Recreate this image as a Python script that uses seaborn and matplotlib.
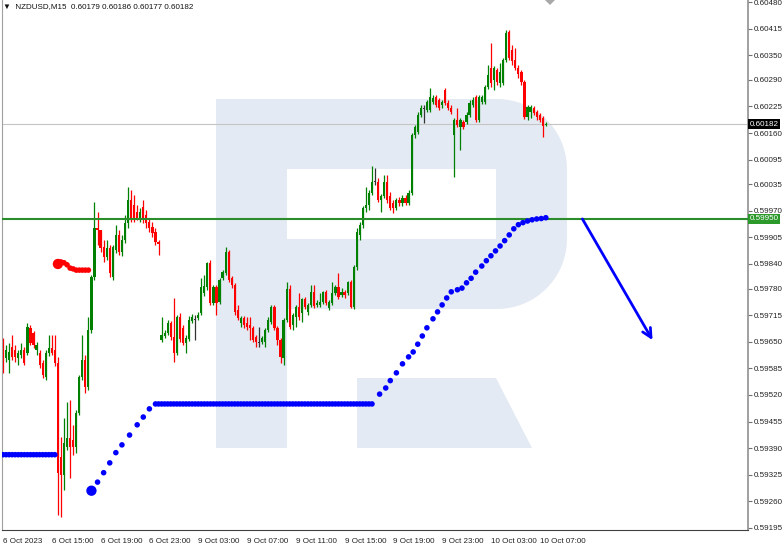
import numpy as np
import pandas as pd
import seaborn as sns
import matplotlib.pyplot as plt
from matplotlib.patches import Polygon, Rectangle
from matplotlib.transforms import blended_transform_factory

# M15 candles, 6 Oct 11:00 .. 10 Oct 07:30
opens = [0.59649, 0.59611, 0.59606, 0.59637, 0.59630, 0.59611, 0.59618, 0.59630, 0.59623, 0.59684,
         0.59672, 0.59630, 0.59623, 0.59599, 0.59564, 0.59623, 0.59635, 0.59630, 0.59599, 0.59369,
         0.59325, 0.59393, 0.59415, 0.59410, 0.59393, 0.59476, 0.59564, 0.59606, 0.59540, 0.59679,
         0.59808, 0.59928, 0.59923, 0.59882, 0.59857, 0.59879, 0.59808, 0.59874, 0.59911, 0.59869,
         0.59899, 0.59941, 0.59996, 0.59984, 0.59967, 0.59953, 0.59979, 0.59960, 0.59943, 0.59931,
         0.59918, 0.59894, 0.59654, 0.59664, 0.59672, 0.59696, 0.59662, 0.59623, 0.59711, 0.59684,
         0.59647, 0.59657, 0.59701, 0.59703, 0.59708, 0.59721, 0.59770, 0.59784, 0.59843, 0.59745,
         0.59784, 0.59747, 0.59805, 0.59818, 0.59869, 0.59805, 0.59789, 0.59728, 0.59696, 0.59708,
         0.59696, 0.59691, 0.59684, 0.59662, 0.59647, 0.59649, 0.59649, 0.59679, 0.59698, 0.59735,
         0.59684, 0.59654, 0.59611, 0.59703, 0.59779, 0.59691, 0.59711, 0.59735, 0.59721, 0.59755,
         0.59723, 0.59740, 0.59772, 0.59740, 0.59740, 0.59747, 0.59772, 0.59733, 0.59745, 0.59770,
         0.59784, 0.59765, 0.59772, 0.59770, 0.59796, 0.59735, 0.59833, 0.59911, 0.59936, 0.59977,
         0.59984, 0.60014, 0.60040, 0.60040, 0.59996, 0.60006, 0.60040, 0.60006, 0.59989, 0.59977,
         0.59996, 0.59989, 0.60001, 0.59989, 0.60014, 0.60155, 0.60162, 0.60204, 0.60219, 0.60216,
         0.60216, 0.60236, 0.60248, 0.60241, 0.60229, 0.60265, 0.60234, 0.60221, 0.60155, 0.60192,
         0.60175, 0.60187, 0.60187, 0.60204, 0.60229, 0.60248, 0.60192, 0.60236, 0.60236, 0.60273,
         0.60319, 0.60290, 0.60314, 0.60283, 0.60283, 0.60338, 0.60407, 0.60363, 0.60338, 0.60319,
         0.60309, 0.60285, 0.60199, 0.60211, 0.60221, 0.60211, 0.60204, 0.60197, 0.60179]
highs = [0.59660, 0.59642, 0.59647, 0.59667, 0.59642, 0.59630, 0.59647, 0.59637, 0.59696, 0.59691,
         0.59677, 0.59649, 0.59630, 0.59606, 0.59630, 0.59667, 0.59667, 0.59667, 0.59613, 0.59417,
         0.59464, 0.59503, 0.59508, 0.59447, 0.59483, 0.59569, 0.59667, 0.59618, 0.59711, 0.59813,
         0.59991, 0.59967, 0.59923, 0.59899, 0.59899, 0.59887, 0.59887, 0.59936, 0.59923, 0.59911,
         0.59960, 0.60028, 0.60021, 0.60009, 0.59984, 0.59977, 0.59996, 0.59972, 0.59953, 0.59943,
         0.59928, 0.59899, 0.59711, 0.59679, 0.59703, 0.59701, 0.59757, 0.59716, 0.59721, 0.59691,
         0.59667, 0.59713, 0.59718, 0.59716, 0.59723, 0.59805, 0.59813, 0.59845, 0.59850, 0.59789,
         0.59789, 0.59805, 0.59825, 0.59882, 0.59874, 0.59810, 0.59794, 0.59740, 0.59713, 0.59713,
         0.59711, 0.59711, 0.59688, 0.59667, 0.59686, 0.59664, 0.59684, 0.59711, 0.59740, 0.59740,
         0.59688, 0.59660, 0.59708, 0.59796, 0.59789, 0.59721, 0.59740, 0.59770, 0.59757, 0.59760,
         0.59745, 0.59789, 0.59789, 0.59752, 0.59770, 0.59775, 0.59777, 0.59752, 0.59796, 0.59789,
         0.59818, 0.59781, 0.59777, 0.59799, 0.59801, 0.59838, 0.59928, 0.59943, 0.59981, 0.60028,
         0.60021, 0.60079, 0.60075, 0.60050, 0.60011, 0.60058, 0.60058, 0.60016, 0.59996, 0.60001,
         0.60004, 0.60009, 0.60009, 0.60021, 0.60160, 0.60180, 0.60211, 0.60229, 0.60229, 0.60241,
         0.60270, 0.60253, 0.60253, 0.60246, 0.60241, 0.60270, 0.60241, 0.60229, 0.60197, 0.60221,
         0.60197, 0.60192, 0.60211, 0.60241, 0.60248, 0.60253, 0.60253, 0.60253, 0.60278, 0.60326,
         0.60380, 0.60324, 0.60319, 0.60331, 0.60343, 0.60412, 0.60412, 0.60375, 0.60368, 0.60326,
         0.60314, 0.60290, 0.60229, 0.60229, 0.60226, 0.60216, 0.60209, 0.60202, 0.60186]
lows = [0.59574, 0.59601, 0.59574, 0.59606, 0.59601, 0.59594, 0.59611, 0.59594, 0.59618, 0.59642,
        0.59635, 0.59618, 0.59587, 0.59562, 0.59557, 0.59615, 0.59618, 0.59591, 0.59227, 0.59222,
        0.59288, 0.59386, 0.59318, 0.59374, 0.59379, 0.59471, 0.59557, 0.59525, 0.59532, 0.59672,
        0.59801, 0.59887, 0.59869, 0.59845, 0.59850, 0.59808, 0.59801, 0.59867, 0.59862, 0.59859,
        0.59892, 0.59928, 0.59943, 0.59943, 0.59948, 0.59943, 0.59941, 0.59928, 0.59918, 0.59906,
        0.59887, 0.59862, 0.59649, 0.59660, 0.59667, 0.59654, 0.59601, 0.59618, 0.59649, 0.59642,
        0.59623, 0.59652, 0.59696, 0.59654, 0.59703, 0.59716, 0.59762, 0.59777, 0.59740, 0.59740,
        0.59716, 0.59742, 0.59801, 0.59813, 0.59796, 0.59781, 0.59716, 0.59703, 0.59686, 0.59684,
        0.59679, 0.59654, 0.59649, 0.59637, 0.59637, 0.59644, 0.59637, 0.59674, 0.59693, 0.59679,
        0.59642, 0.59599, 0.59594, 0.59698, 0.59681, 0.59679, 0.59686, 0.59703, 0.59698, 0.59730,
        0.59716, 0.59735, 0.59733, 0.59735, 0.59735, 0.59742, 0.59740, 0.59728, 0.59740, 0.59765,
        0.59755, 0.59760, 0.59757, 0.59765, 0.59733, 0.59730, 0.59825, 0.59899, 0.59928, 0.59967,
        0.59972, 0.60009, 0.60033, 0.59991, 0.59967, 0.60001, 0.59989, 0.59972, 0.59965, 0.59972,
        0.59981, 0.59981, 0.59984, 0.59984, 0.60009, 0.60148, 0.60157, 0.60199, 0.60185, 0.60211,
        0.60211, 0.60231, 0.60224, 0.60216, 0.60221, 0.60229, 0.60216, 0.60206, 0.60053, 0.60175,
        0.60119, 0.60170, 0.60182, 0.60199, 0.60224, 0.60187, 0.60187, 0.60231, 0.60231, 0.60268,
        0.60273, 0.60265, 0.60278, 0.60273, 0.60278, 0.60333, 0.60338, 0.60326, 0.60314, 0.60295,
        0.60278, 0.60194, 0.60192, 0.60197, 0.60204, 0.60192, 0.60187, 0.60151, 0.60177]
closes = [0.59611, 0.59630, 0.59625, 0.59613, 0.59613, 0.59623, 0.59630, 0.59599, 0.59686, 0.59647,
          0.59642, 0.59642, 0.59594, 0.59569, 0.59623, 0.59635, 0.59623, 0.59599, 0.59330, 0.59325,
          0.59403, 0.59415, 0.59393, 0.59393, 0.59476, 0.59564, 0.59606, 0.59540, 0.59679, 0.59808,
          0.59928, 0.59923, 0.59879, 0.59857, 0.59879, 0.59818, 0.59882, 0.59911, 0.59869, 0.59899,
          0.59941, 0.59996, 0.59953, 0.59953, 0.59953, 0.59967, 0.59948, 0.59941, 0.59928, 0.59916,
          0.59894, 0.59889, 0.59667, 0.59672, 0.59696, 0.59662, 0.59623, 0.59711, 0.59657, 0.59647,
          0.59660, 0.59703, 0.59711, 0.59703, 0.59716, 0.59784, 0.59786, 0.59843, 0.59745, 0.59784,
          0.59745, 0.59801, 0.59820, 0.59869, 0.59801, 0.59789, 0.59723, 0.59708, 0.59708, 0.59691,
          0.59686, 0.59684, 0.59654, 0.59649, 0.59647, 0.59660, 0.59679, 0.59703, 0.59735, 0.59684,
          0.59654, 0.59613, 0.59703, 0.59779, 0.59686, 0.59716, 0.59735, 0.59711, 0.59755, 0.59735,
          0.59740, 0.59772, 0.59737, 0.59745, 0.59747, 0.59772, 0.59745, 0.59747, 0.59770, 0.59784,
          0.59760, 0.59772, 0.59765, 0.59796, 0.59735, 0.59833, 0.59918, 0.59936, 0.59977, 0.59984,
          0.60014, 0.60040, 0.60040, 0.59996, 0.60006, 0.60040, 0.59996, 0.59977, 0.59977, 0.59996,
          0.59989, 0.60001, 0.59989, 0.60014, 0.60155, 0.60175, 0.60204, 0.60221, 0.60219, 0.60236,
          0.60248, 0.60246, 0.60229, 0.60221, 0.60236, 0.60234, 0.60221, 0.60211, 0.60192, 0.60180,
          0.60192, 0.60175, 0.60204, 0.60234, 0.60241, 0.60192, 0.60248, 0.60248, 0.60273, 0.60302,
          0.60283, 0.60319, 0.60285, 0.60309, 0.60338, 0.60405, 0.60343, 0.60336, 0.60319, 0.60304,
          0.60285, 0.60199, 0.60224, 0.60224, 0.60209, 0.60199, 0.60192, 0.60177, 0.60182]

time_labels = ['6 Oct 2023', '6 Oct 15:00', '6 Oct 19:00', '6 Oct 23:00', '9 Oct 03:00',
               '9 Oct 07:00', '9 Oct 11:00', '9 Oct 15:00', '9 Oct 19:00', '9 Oct 23:00',
               '10 Oct 03:00', '10 Oct 07:00']
price_ticks = [0.60480, 0.60415, 0.60350, 0.60290, 0.60225, 0.60160, 0.60095, 0.60035, 0.59970,
               0.59905, 0.59840, 0.59780, 0.59715, 0.59650, 0.59585, 0.59520, 0.59455, 0.59390,
               0.59325, 0.59260, 0.59195]

# indicator dots (position in bars, price)
blue_pos = (list(range(0, 18)) + [29, 31, 33, 35, 37, 39, 41.5, 44, 46, 48]
            + list(range(50, 122))
            + [123.5, 125.5, 127, 129, 131, 133, 134.5, 136, 137.5, 139, 141, 142.5, 144, 145.5,
               147, 149, 150.5, 152, 153.5, 155, 157, 158.5, 160, 161.5, 163, 164.5, 166, 167.5,
               169, 170.5, 172, 173.5, 175, 176.5, 178])
blue_vals = ([0.59374] * 18
             + [0.59286, 0.59307, 0.59330, 0.59354, 0.59379, 0.59398, 0.59422, 0.59447, 0.59466, 0.59486]
             + [0.59498] * 72
             + [0.59522, 0.59537, 0.59555, 0.59574, 0.59596, 0.59613, 0.59625, 0.59644, 0.59664,
                0.59684, 0.59706, 0.59723, 0.59740, 0.59757, 0.59772, 0.59777, 0.59781, 0.59794,
                0.59805, 0.59820, 0.59835, 0.59848, 0.59860, 0.59872, 0.59884, 0.59897, 0.59911,
                0.59926, 0.59936, 0.59941, 0.59945, 0.59948, 0.59950, 0.59951, 0.59953])
red_pos = [18, 19, 20, 21, 22, 23, 24, 25, 26, 27, 28]
red_vals = [0.59840, 0.59845, 0.59843, 0.59838, 0.59830, 0.59828, 0.59825, 0.59825, 0.59825,
            0.59825, 0.59825]

level = 0.59950
last_price = 0.60182
arrow_from = (190, 0.59950)
arrow_to = (213, 0.59654)

df = pd.DataFrame({'open': opens, 'high': highs, 'low': lows, 'close': closes})
df['bar'] = np.arange(len(df))
df['body'] = (df['close'] - df['open']).abs().clip(lower=0.000025)
df['bottom'] = df[['open', 'close']].min(axis=1)
df['dir'] = np.sign(df['close'] - df['open'])
palette = {1: '#008000', -1: '#ff0000', 0: '#333333'}

sns.set_style('white')
plt.rcParams['font.family'] = ['Liberation Sans', 'DejaVu Sans']
fs = 5.8

fig = plt.figure(figsize=(7.82, 5.49), dpi=100)

# background watermark in pixel space
bg = fig.add_axes([0, 0, 1, 1], zorder=0)
bg.set_xlim(0, 782)
bg.set_ylim(549, 0)
bg.axis('off')
wm = '#e4eaf3'
t = np.linspace(-np.pi / 2, 0, 20)
bowl = ([(216, 99), (497, 99)]
        + [(497 + 70 * np.cos(a), 169 + 70 * np.sin(a)) for a in t]
        + [(497 + 70 * np.cos(a), 239 + 70 * np.sin(a)) for a in np.linspace(0, np.pi / 2, 20)]
        + [(216, 309)])
bg.add_patch(Polygon(bowl, closed=True, fc=wm, ec='none'))
bg.add_patch(Rectangle((287, 169), 209, 70, fc='white', ec='none'))
bg.add_patch(Rectangle((216, 99), 71, 349, fc=wm, ec='none'))
bg.add_patch(Polygon([(357, 378), (496, 378), (532, 448), (357, 448)], closed=True, fc=wm, ec='none'))
bg.add_patch(Polygon([(545, 0), (555, 0), (550, 5)], closed=True, fc='#a8a8a8', ec='none'))

ax = fig.add_axes([2 / 782, 19 / 549, 746 / 782, 530 / 549], zorder=1)
ax.patch.set_alpha(0)

ax.axhline(last_price, color='#c4c4c4', lw=0.8, zorder=1)

for d, grp in df.groupby('dir'):
    c = palette[d]
    ax.vlines(grp['bar'], grp['low'], grp['high'], color=c, lw=0.9, zorder=2)
    ax.bar(grp['bar'], grp['body'], bottom=grp['bottom'], width=0.72, color=c, linewidth=0, zorder=2)

ax.axhline(level, color='#2b8c2b', lw=1.5, zorder=3)

sns.scatterplot(x=blue_pos, y=blue_vals, s=16, color='#0000ff', edgecolor='none', ax=ax, zorder=4)
sns.scatterplot(x=[blue_pos[18]], y=[blue_vals[18]], s=55, color='#0000ff', edgecolor='none', ax=ax, zorder=4)
sns.scatterplot(x=red_pos, y=red_vals, s=16, color='#ff0000', edgecolor='none', ax=ax, zorder=4)
sns.scatterplot(x=[red_pos[0]], y=[red_vals[0]], s=55, color='#ff0000', edgecolor='none', ax=ax, zorder=4)

ax.annotate('', xy=arrow_to, xytext=arrow_from,
            arrowprops=dict(arrowstyle='->', color='#0000ff', lw=2, mutation_scale=16,
                            shrinkA=0, shrinkB=0), zorder=5)

ax.set_xlim(-0.33, 244.3)
ax.set_ylim(0.59190, 0.60485)

ax.yaxis.tick_right()
ax.set_yticks(price_ticks)
ax.set_yticklabels([f'{p:.5f}' for p in price_ticks])
ax.set_xticks(range(0, 16 * len(time_labels), 16))
ax.set_xticklabels(time_labels, ha='left')
ax.tick_params(axis='y', direction='out', length=3, width=0.8, color='#707070',
               labelsize=fs, pad=1.5, labelcolor='#222222')
ax.tick_params(axis='x', direction='out', length=4, width=0.8, color='#404040',
               labelsize=fs, pad=1.5, labelcolor='#222222')
ax.set_xlabel('')
ax.set_ylabel('')
ax.spines['top'].set_visible(False)
ax.spines['left'].set_color('#a0a0a0')
ax.spines['right'].set_color('#909090')
ax.spines['right'].set_linewidth(1.2)
ax.spines['bottom'].set_color('#404040')
ax.spines['bottom'].set_linewidth(0.8)

tr = blended_transform_factory(ax.transAxes, ax.transData)
ax.text(1.002, last_price, f'{last_price:.5f}', transform=tr, ha='left', va='center',
        fontsize=fs, color='white', zorder=6,
        bbox=dict(boxstyle='square,pad=0.18', fc='black', ec='none'))
ax.text(1.002, level, f'{level:.5f}', transform=tr, ha='left', va='center',
        fontsize=fs, color='white', zorder=6,
        bbox=dict(boxstyle='square,pad=0.18', fc='#2b9a2b', ec='none'))

ax.text(0.002, 0.994, '\u25bc  NZDUSD,M15  0.60179 0.60186 0.60177 0.60182',
        transform=ax.transAxes, ha='left', va='top', fontsize=fs, color='#111111')

fig.savefig('out.png', dpi=100)
